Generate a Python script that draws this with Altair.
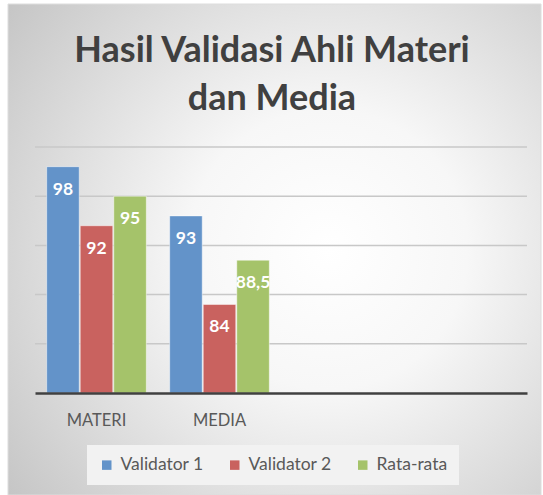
import altair as alt
import pandas as pd

categories = ["MATERI", "MEDIA"]
empty_slots = ["kosong3", "kosong4"]
series = ["Validator 1", "Validator 2", "Rata-rata"]
validator_1 = [98, 93]
validator_2 = [92, 84]
rata_rata = [95, 88.5]
colors = ["#6393C9", "#C9625F", "#A5C36A"]
grid_values = [80, 85, 90, 95, 100]
y_min, y_max = 75, 100
title_lines = ["Hasil Validasi Ahli Materi", "dan Media"]

rows = []
for s, vals in zip(series, [validator_1, validator_2, rata_rata]):
    for c, v in zip(categories, vals):
        rows.append({"kategori": c, "seri": s, "nilai": v,
                     "label": f"{v:g}".replace(".", ",")})
df = pd.DataFrame(rows)

x_domain = categories + empty_slots
xscale = alt.Scale(domain=x_domain, paddingInner=0.19, paddingOuter=0.095)
yscale = alt.Scale(domain=[y_min, y_max], nice=False, zero=False)
FONT = "Lato"

bg = alt.Chart(pd.DataFrame({"a": [0]})).mark_rect(
    color=alt.Gradient(
        gradient="radial",
        stops=[alt.GradientStop(color="#ffffff", offset=0),
               alt.GradientStop(color="#f7f7f7", offset=0.35),
               alt.GradientStop(color="#c6c6c6", offset=1)],
        x1=0.6, y1=0.5, r1=0, x2=0.6, y2=0.5, r2=0.75),
    stroke="#dddddd", strokeWidth=1,
).encode(x=alt.value(-27), x2=alt.value(506), y=alt.value(-143), y2=alt.value(348))

title_df = pd.DataFrame({"t": title_lines, "line": [0, 1]})
title = alt.Chart(title_df).mark_text(
    font=FONT, fontSize=36, fontWeight="bold", color="#404040",
    align="center", baseline="alphabetic",
).encode(
    text="t:N",
    x=alt.value(237),
    y=alt.Y("line:Q", scale=alt.Scale(domain=[0, 1], range=[-85, -37]), axis=None),
)

grid = alt.Chart(pd.DataFrame({"g": grid_values})).mark_rule(
    color="#c8c8c8", strokeWidth=1.5
).encode(
    y=alt.Y("g:Q", scale=yscale, axis=None),
    x=alt.value(0), x2=alt.value(492),
)

xenc = alt.X("kategori:N", scale=xscale, sort=x_domain, axis=alt.Axis(
    title=None, domain=True, domainColor="#404040", domainWidth=2.5,
    ticks=False, labelAngle=0, labelFontSize=16.5, labelColor="#595959",
    labelFont=FONT, labelPadding=19, grid=False, zindex=1,
    labelExpr="indexof(['MATERI','MEDIA'], datum.value) >= 0 ? datum.value : ''"))
xoff = alt.XOffset("seri:N", sort=series, scale=alt.Scale(paddingInner=0.03))

bars = alt.Chart(df).mark_bar(stroke="#ffffff", strokeWidth=0.8, strokeOpacity=0.6).encode(
    x=xenc,
    xOffset=xoff,
    y=alt.Y("nilai:Q", scale=yscale, axis=None),
    y2=alt.datum(y_min),
    color=alt.Color("seri:N", sort=series,
                    scale=alt.Scale(domain=series, range=colors),
                    legend=alt.Legend(
                        orient="none", legendX=52, legendY=298,
                        direction="horizontal", title=None,
                        symbolType="square", symbolSize=90, symbolStrokeWidth=0,
                        symbolOpacity=1, labelFontSize=17.5, labelColor="#595959",
                        labelFont=FONT, fillColor="#f2f2f2", padding=11,
                        columnPadding=22, labelOffset=5)),
)

text = alt.Chart(df).mark_text(
    color="white", fontWeight="bold", fontSize=17.5, font=FONT,
    baseline="top", dy=14,
).encode(
    x=xenc, xOffset=xoff,
    y=alt.Y("nilai:Q", scale=yscale, axis=None),
    text="label:N",
)

chart = alt.layer(bg, title, grid, bars, text).resolve_scale(y="independent").properties(
    width=492, height=246,
    autosize=alt.AutoSizeParams(type="none"),
    padding={"left": 35, "top": 147, "right": 16, "bottom": 102},
    background="#ffffff",
).configure_view(stroke=None)

chart.save("out.html", embed_options={"renderer": "svg", "actions": False})
